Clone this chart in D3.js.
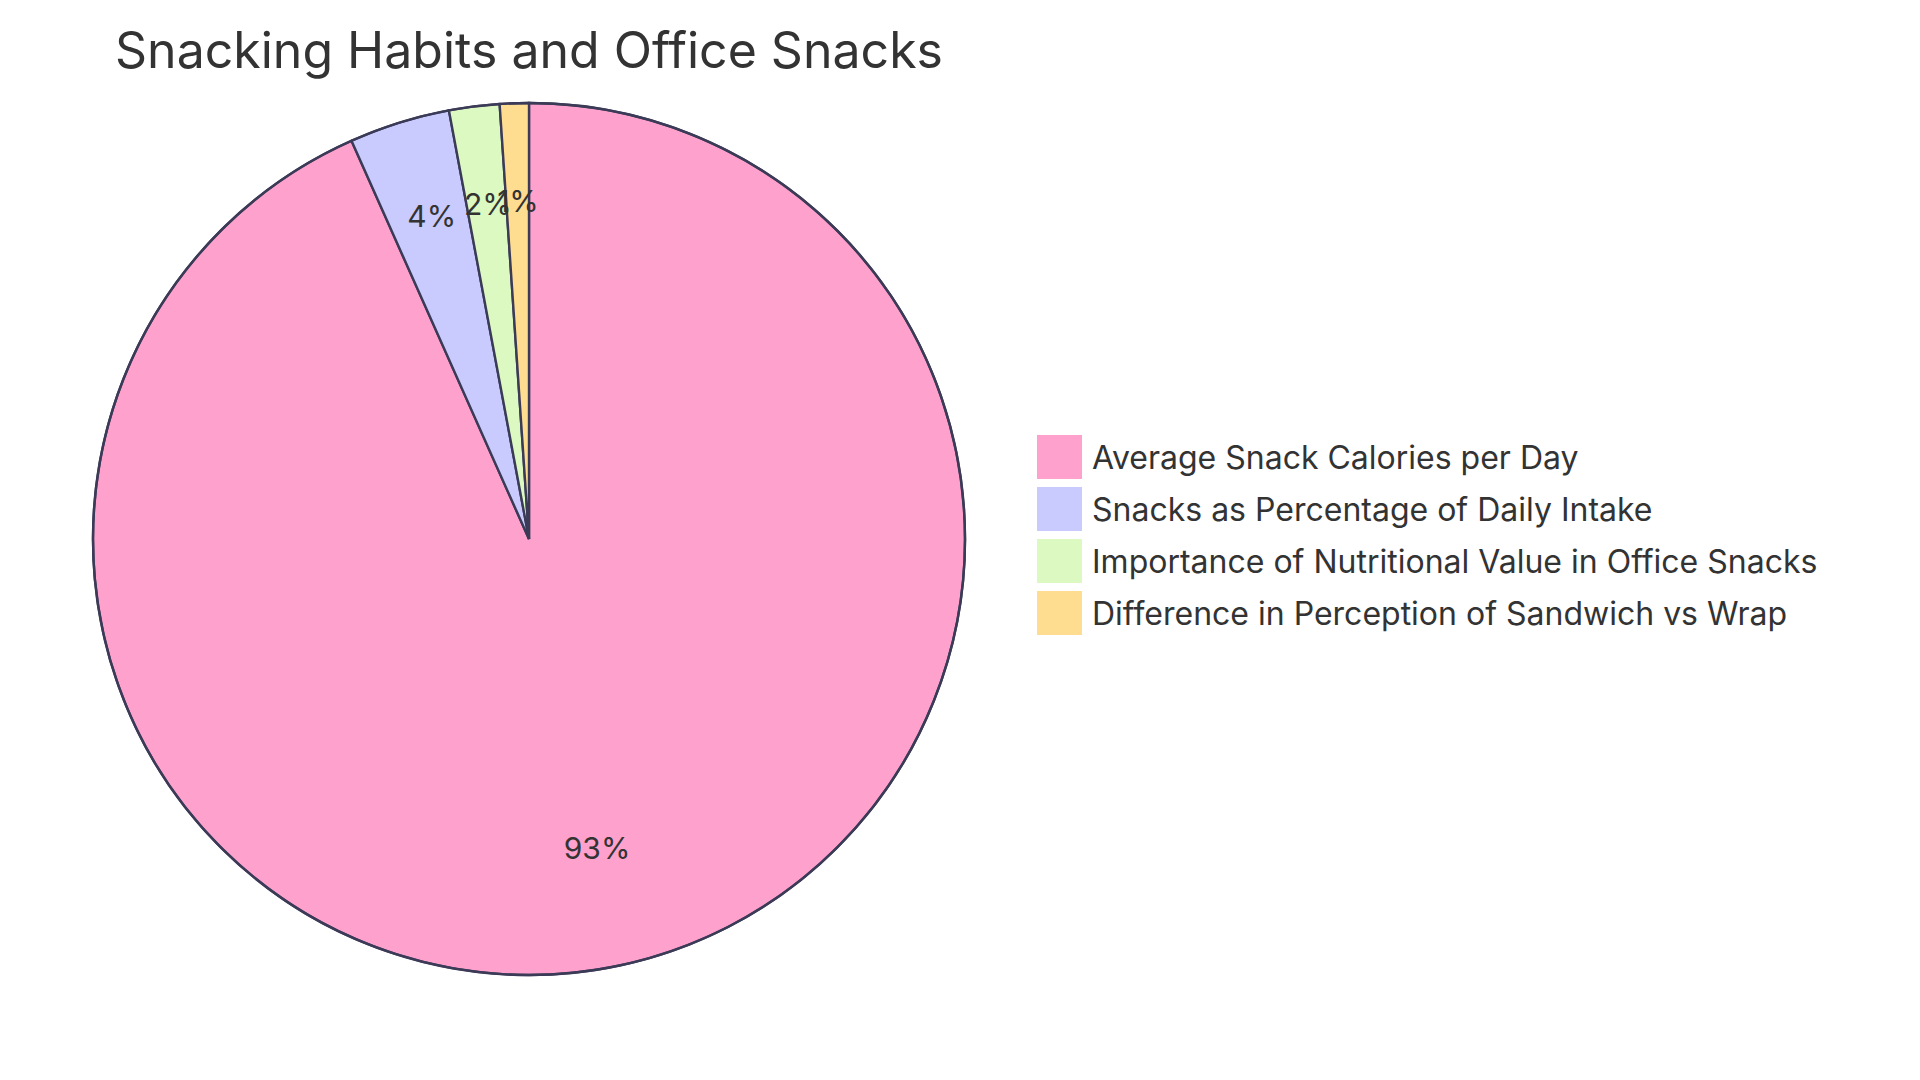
<!DOCTYPE html>
<html>
<head>
  <meta charset="utf-8">
  <style>
    body { margin: 0; background: #fff; }
    text { font-family: "Inter", "Open Sans", sans-serif; fill: #333; }
    .slice { stroke: #3b3b58; stroke-width: 2.4; }
    .title { font-size: 50px; }
    .pct { font-size: 30px; }
    .legend text { font-size: 32px; }
  </style>
  <script src="https://d3js.org/d3.v7.min.js"></script>
</head>
<body>
<script>
  var categories = [
    "Average Snack Calories per Day",
    "Snacks as Percentage of Daily Intake",
    "Importance of Nutritional Value in Office Snacks",
    "Difference in Perception of Sandwich vs Wrap"
  ];
  var values = [200, 8, 4, 2.3];
  var colors = ["#FEA1CC", "#C9CBFE", "#DBF9C1", "#FEDD91"];
  var title = "Snacking Habits and Office Snacks";

  var width = 1920, height = 1080;
  var cx = 529, cy = 539, radius = 436;

  var svg = d3.select("body").append("svg")
      .attr("width", width)
      .attr("height", height);

  svg.append("text")
      .attr("class", "title")
      .attr("x", cx)
      .attr("y", 68)
      .attr("text-anchor", "middle")
      .text(title);

  var data = categories.map(function(c, i) { return { name: c, value: values[i], color: colors[i] }; });
  var total = d3.sum(values);

  var pie = d3.pie().sort(null).value(function(d) { return d.value; });
  var arc = d3.arc().innerRadius(0).outerRadius(radius);
  var labelArc = d3.arc().innerRadius(radius * 0.75).outerRadius(radius * 0.75);

  var g = svg.append("g")
      .attr("transform", "translate(" + cx + "," + cy + ")");

  var arcs = pie(data);

  g.selectAll("path")
    .data(arcs)
    .enter().append("path")
      .attr("class", "slice")
      .attr("d", arc)
      .attr("fill", function(d) { return d.data.color; });

  // outer ring
  g.append("circle")
      .attr("r", radius)
      .attr("fill", "none")
      .attr("stroke", "#3b3b58")
      .attr("stroke-width", 2.4);

  g.selectAll("text.pct")
    .data(arcs)
    .enter().append("text")
      .attr("class", "pct")
      .attr("transform", function(d) { return "translate(" + labelArc.centroid(d) + ")"; })
      .attr("text-anchor", "middle")
      .text(function(d) { return Math.round(d.data.value / total * 100) + "%"; });

  // legend
  var legend = svg.append("g").attr("class", "legend")
      .attr("transform", "translate(1037,435)");

  var item = legend.selectAll("g")
    .data(data)
    .enter().append("g")
      .attr("transform", function(d, i) { return "translate(0," + i * 52 + ")"; });

  item.append("rect")
      .attr("width", 45)
      .attr("height", 44)
      .attr("fill", function(d) { return d.color; });

  item.append("text")
      .attr("x", 55)
      .attr("y", 34)
      .text(function(d) { return d.name; });
</script>
</body>
</html>
